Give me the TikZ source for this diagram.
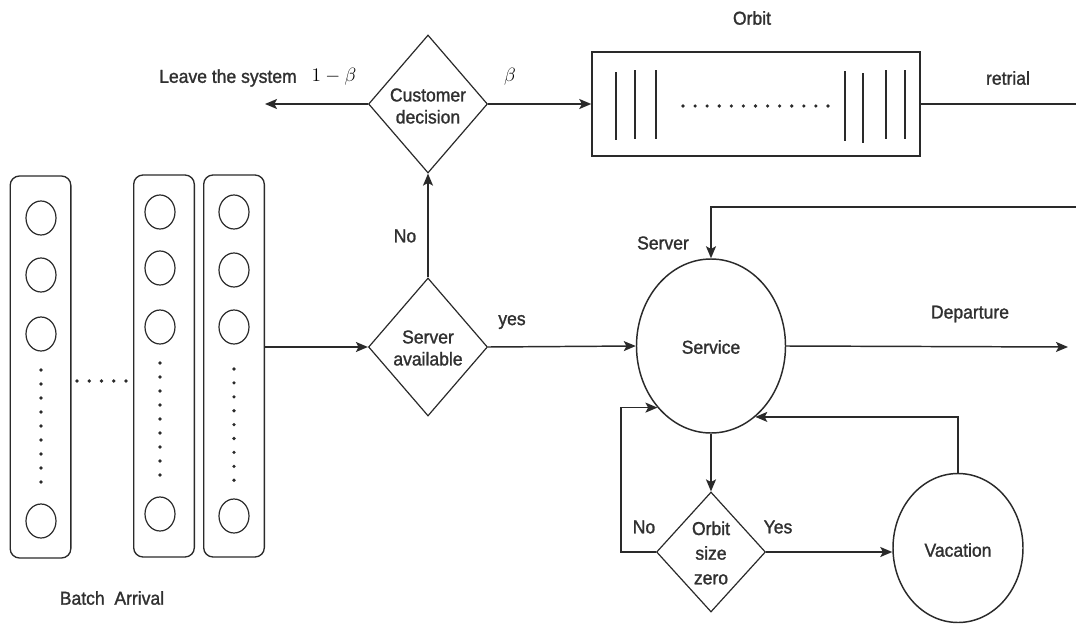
\documentclass[tikz,border=0pt]{standalone}
\usepackage{fontspec}
\setmainfont{Liberation Sans}[FakeBold=1.3,FakeStretch=0.94]
\usetikzlibrary{shapes.geometric,arrows.meta}
\definecolor{ink}{HTML}{2A2A2A}
\definecolor{txt}{HTML}{303030}
\tikzset{
  conn/.style={draw=ink,line width=1.1pt},
  arr/.style={conn,-{Stealth[length=9pt,width=7.5pt,inset=2pt]}},
  decide/.style={shape=diamond,draw=ink,line width=0.9pt,inner sep=0pt},
  roundnode/.style={shape=ellipse,draw=ink,line width=1.1pt,inner sep=0pt},
  batchbox/.style={shape=rectangle,rounded corners=7pt,draw=ink,line width=1pt,minimum width=45.5pt,minimum height=286.5pt},
  cust/.style={shape=ellipse,draw=ink,line width=0.9pt,minimum width=22.5pt,minimum height=25.5pt,inner sep=0pt},
  lbl/.style={text=txt,font=\fontsize{14}{16.5}\selectfont,inner sep=0pt},
  inner/.style={text=txt,font=\fontsize{14}{16.5}\selectfont,align=center,inner sep=0pt},
  mathlbl/.style={text=black,font=\fontsize{15.5}{18}\selectfont,inner sep=0pt},
  dotmark/.style={fill=ink,draw=none},
  bar/.style={draw=ink,line width=1pt}
}
\begin{document}
\begin{tikzpicture}[x=0.75pt,y=-0.75pt]
\useasboundingbox[fill=white] (0,0) rectangle (1076,625);

% Customer decision
\node[decide,minimum width=89.25pt,minimum height=103.5pt] (cd) at (428,104) {};
\node[inner] (cdt) at (428,106) {Customer\\decision};
% Server available
\node[decide,minimum width=89.25pt,minimum height=103.5pt] (sa) at (428,347) {};
\node[inner] (sat) at (428,348) {Server\\available};
% Orbit box
\node[shape=rectangle,draw=ink,line width=1.1pt,minimum width=246pt,minimum height=78pt,inner sep=0pt] (orb) at (756,104) {};
\node[lbl] (orbl) at (752,18) {Orbit};
\foreach \xx/\ya/\yb in {616/72/140,635/70/139,656/70/139,845/71/141,863/73/143,886/70/139,905/70/139}
  \draw[bar] (\xx,\ya) -- (\xx,\yb);
\foreach \i in {0,...,12}
  \fill[dotmark] (683+\i*12.08,106) circle (1.8);

% Service and vacation
\node[roundnode,minimum width=111.75pt,minimum height=130.5pt] (svc) at (711,346) {};
\node[inner] (svct) at (711,347) {Service};
\node[roundnode,minimum width=97.5pt,minimum height=111.75pt] (vac) at (958,548) {};
\node[inner] (vact) at (958,550) {Vacation};
% Orbit size zero
\node[decide,minimum width=81.75pt,minimum height=90pt] (osz) at (711,552) {};
\node[inner,font=\fontsize{14}{18.5}\selectfont] (oszt) at (711,553) {Orbit\\size\\zero};

% Batch boxes
\node[batchbox] (b1) at (40.5,367) {};
\node[batchbox] (b2) at (164,366) {};
\node[batchbox] (b3) at (234,366) {};
\foreach \yy [count=\k] in {218,275,334,521} \node[cust] (c1\k) at (41,\yy) {};
\foreach \yy [count=\k] in {212,268,327,514} \node[cust] (c2\k) at (160,\yy) {};
\foreach \yy [count=\k] in {212,270,327,516} \node[cust] (c3\k) at (234,\yy) {};
\foreach \i in {0,...,8} {
  \fill[dotmark] (41,370+\i*14) circle (1.8);
  \fill[dotmark] (160,363+\i*14) circle (1.8);
  \fill[dotmark] (234,369+\i*13.9) circle (1.8);
}
\foreach \i in {0,...,4} \fill[dotmark] (77+\i*12.25,381) circle (1.8);
\node[lbl] (ba) at (112,598) {Batch\ \ Arrival};

% free ends
\coordinate (leave) at (265,104);
\coordinate (dep) at (1068,347);
\coordinate (rt) at (1076,104);
\coordinate (fb) at (1076,207);

% connectors
\draw[arr] (cd.west) -- (leave);
\draw[arr] (cd.east) -- (orb.west);
\draw[conn] (orb.east) -- (rt);
\draw[arr] (sa.north) -- (cd.south);
\draw[arr] (b3.east |- sa.west) -- (sa.west);
\draw[arr] (sa.east) -- (svc.west);
\draw[arr] (fb) -| (svc.north);
\draw[arr] (svc.east) -- (dep);
\draw[arr] (svc.south) -- (osz.north);
\draw[arr] (osz.east) -- (osz.east -| vac.west);
\draw[arr] (osz.west) -- ++(-35,0) |- (svc.229.5);
\draw[arr] (vac.north) |- (svc.-58.2);

% labels
\node[lbl,anchor=east] (lv) at (297,78) {Leave the system};
\node[mathlbl] (omb) at (334,77) {$1-\beta$};
\node[mathlbl] (bt) at (510,77) {$\beta$};
\node[lbl] (rtl) at (1008,78) {retrial};
\node[lbl] (no1) at (405,236) {No};
\node[lbl] (yes1) at (512,322) {yes};
\node[lbl] (srv) at (663,243) {Server};
\node[lbl] (dpl) at (970,314) {Departure};
\node[lbl] (no2) at (644,527) {No};
\node[lbl] (yes2) at (778,527) {Yes};
\end{tikzpicture}
\end{document}
